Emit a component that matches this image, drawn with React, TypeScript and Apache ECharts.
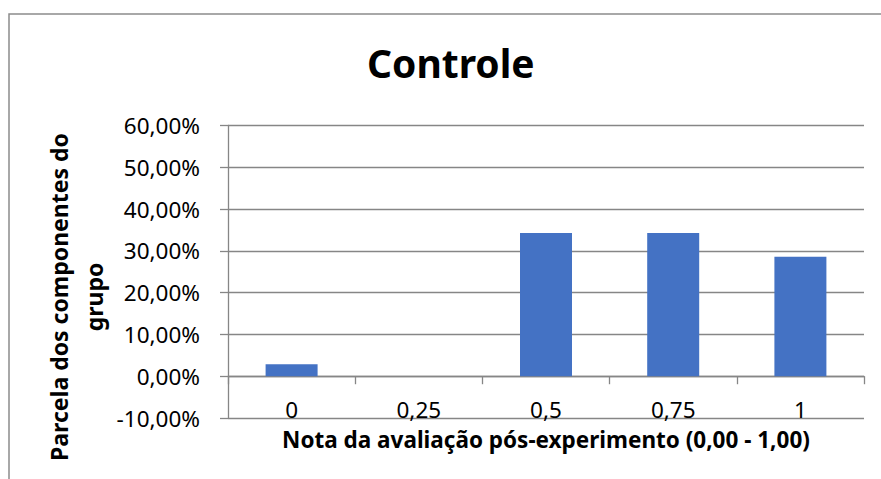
import React, { useEffect, useRef } from "react";
import * as echarts from "echarts";

const categories = ["0", "0,25", "0,5", "0,75", "1"];
const shares = [0.0286, 0, 0.3429, 0.3429, 0.2857];
const yMin = -0.1;
const yMax = 0.6;
const yStep = 0.1;
const titleText = "Controle";
const xName = "Nota da avaliação pós-experimento (0,00 - 1,00)";
const yName = "Parcela dos componentes do\ngrupo";

const FONT = "'Noto Sans', 'Open Sans', sans-serif";

export default function App() {
  const ref = useRef<HTMLDivElement>(null);
  useEffect(() => {
    if (!ref.current) return;
    const chart = echarts.init(ref.current, null, { renderer: "svg" });
    const fmt = (v: number) => (v * 100).toFixed(2).replace(".", ",") + "%";
    chart.setOption({
      animation: false,
      backgroundColor: "#ffffff",
      textStyle: { fontFamily: FONT },
      title: {
        text: titleText,
        left: 362,
        top: 38,
        textStyle: { fontFamily: FONT, fontSize: 39, fontWeight: "bold", color: "#000" },
      },
      graphic: [
        {
          type: "polyline",
          shape: { points: [[9, 479], [9, 14], [881, 14]] },
          style: { stroke: "#8c8c8c", lineWidth: 1.5, fill: "none" },
          silent: true,
        },
        {
          type: "text",
          x: 76,
          y: 297,
          rotation: Math.PI / 2,
          style: {
            text: yName,
            fontFamily: FONT,
            fontSize: 23,
            fontWeight: "bold",
            fill: "#000",
            lineHeight: 35,
            align: "center",
            verticalAlign: "middle",
          },
          silent: true,
        },
      ],
      grid: {
        left: 228,
        right: 17,
        top: 125.5,
        bottom: 61,
        containLabel: false,
        outerBoundsMode: "none",
      },
      xAxis: {
        type: "category",
        data: categories,
        name: xName,
        nameLocation: "middle",
        nameGap: 10,
        nameTextStyle: { fontFamily: FONT, fontSize: 22.5, fontWeight: "bold", color: "#000" },
        axisLine: { show: true, onZero: true, lineStyle: { color: "#868686", width: 1.3 } },
        axisTick: { show: true, length: 8, alignWithLabel: false, lineStyle: { color: "#868686", width: 1.3 } },
        axisLabel: { margin: -20, fontFamily: FONT, fontSize: 22.5, color: "#000" },
        splitLine: { show: false },
      },
      yAxis: {
        type: "value",
        min: yMin,
        max: yMax,
        interval: yStep,
        axisLine: { show: true, lineStyle: { color: "#868686", width: 1.3 } },
        axisTick: { show: true, length: 8, lineStyle: { color: "#868686", width: 1.3 } },
        axisLabel: { margin: 28, fontFamily: FONT, fontSize: 22.5, color: "#000", formatter: fmt },
        splitLine: { show: true, lineStyle: { color: "#868686", width: 1.3 } },
      },
      series: [
        {
          type: "bar",
          data: shares,
          barWidth: 52,
          itemStyle: { color: "#4472C4" },
        },
      ],
    });
    return () => chart.dispose();
  }, []);
  return (
    <div
      ref={ref}
      style={{ position: "absolute", left: 0, top: 0, width: 881, height: 479 }}
    />
  );
}
